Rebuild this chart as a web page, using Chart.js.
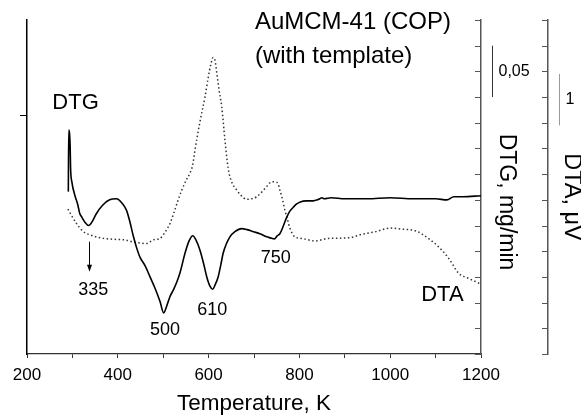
<!DOCTYPE html>
<html>
<head>
<meta charset="utf-8">
<script src="https://cdn.jsdelivr.net/npm/chart.js@4.4.1/dist/chart.umd.min.js"></script>
<style>
  html, body { margin: 0; padding: 0; background: #fff; }
</style>
</head>
<body>
<canvas id="thermoChart" width="581" height="417"></canvas>
<script>
// DTG curve (solid), mg/min
const dtgTemp = [291, 292, 295, 296, 299, 305, 312, 316, 321, 328, 336, 344, 352, 367, 382, 397, 409, 419, 427, 434,
  441, 449, 460, 471, 482, 493, 501, 508, 515, 522, 530, 537, 548, 557, 565, 572, 581, 589, 596, 603,
  609, 614, 621, 627, 632, 639, 647, 658, 673, 685, 699, 713, 728, 736, 745, 751, 757, 765, 772, 779,
  787, 794, 802, 815, 830, 840, 845, 849, 855, 870, 900, 950, 1000, 1050, 1100, 1125, 1140, 1160, 1200];
const dtgValue = [-0.142, -0.082, -0.097, -0.119, -0.133, -0.145, -0.155, -0.163, -0.167, -0.172, -0.175, -0.171, -0.164, -0.155, -0.150, -0.149, -0.153, -0.160, -0.172, -0.185,
  -0.196, -0.206, -0.214, -0.225, -0.236, -0.249, -0.260, -0.253, -0.244, -0.238, -0.230, -0.221, -0.202, -0.190, -0.185, -0.189, -0.199, -0.212, -0.225, -0.234,
  -0.237, -0.233, -0.225, -0.213, -0.202, -0.193, -0.186, -0.181, -0.178, -0.179, -0.181, -0.183, -0.186, -0.187, -0.188, -0.185, -0.183, -0.175, -0.167, -0.161,
  -0.157, -0.154, -0.152, -0.151, -0.151, -0.150, -0.149, -0.148, -0.149, -0.148, -0.149, -0.149, -0.148, -0.149, -0.149, -0.150, -0.147, -0.147, -0.146];

// DTA curve (dotted), µV
const dtaTemp = [290, 309, 323, 338, 368, 397, 416, 434, 463, 478, 493, 504, 515, 524, 533, 541, 551, 559, 565, 570,
  581, 592, 599, 605, 610, 614, 618, 623, 629, 636, 643, 649, 662, 671, 684, 694, 706, 717, 728, 739,
  746, 753, 757, 763, 768, 774, 779, 790, 805, 835, 864, 908, 938, 967, 1000, 1026, 1055, 1084, 1106, 1129,
  1151, 1173, 1200];
const dtaValue = [-0.18, -0.46, -0.61, -0.68, -0.75, -0.77, -0.78, -0.82, -0.85, -0.78, -0.75, -0.63, -0.46, -0.24, 0.0, 0.19, 0.39, 0.52, 0.68, 0.97,
  1.52, 2.0, 2.37, 2.64, 2.77, 2.72, 2.47, 2.14, 1.81, 1.16, 0.62, 0.39, 0.19, 0.09, 0.01, 0.02, 0.06, 0.15, 0.26, 0.35,
  0.35, 0.31, 0.19, 0.0, -0.2, -0.39, -0.55, -0.72, -0.75, -0.8, -0.75, -0.74, -0.67, -0.62, -0.55, -0.57, -0.6, -0.75, -0.91, -1.14,
  -1.43, -1.53, -1.64];

// axes
const tempRange = [200, 1200];
const tempLabelStep = 200;
const dtgRange = [-0.30, 0.025];
const dtgStep = 0.025;
const dtaRange = [-3, 3.5];
const dtaStep = 0.5;
const leftTicks = [-0.0675];

// scale bars
const dtgBar = [-0.05, 0];
const dtgBarText = "0,05";
const dtaBar = [1.45, 2.45];
const dtaBarText = "1";

// labels placed at (temperature, DTG value)
const notes = [
  { text: "AuMCM-41 (COP)", t: 702, v: 0.0225, size: 24, align: "left" },
  { text: "(with template)", t: 702, v: -0.0105, size: 24, align: "left" },
  { text: "DTG", t: 307, v: -0.0558, size: 22 },
  { text: "335", t: 346, v: -0.2377, size: 18 },
  { text: "500", t: 504, v: -0.2762, size: 18 },
  { text: "610", t: 608, v: -0.2577, size: 18 },
  { text: "750", t: 748, v: -0.2066, size: 18 },
  { text: "DTA", t: 1115, v: -0.2426, size: 22 }
];
const arrow335 = { t: 336, from: -0.1907, to: -0.2199 };

const FONT = "'Liberation Sans', Arial, sans-serif";
Chart.defaults.font.family = FONT;
Chart.defaults.color = "#000";

function toPoints(xs, ys) {
  return xs.map((x, i) => ({ x: x, y: ys[i] }));
}

const overlay = {
  id: "overlay",
  afterDraw(chart) {
    const { ctx, scales, chartArea } = chart;
    const xs = scales.x, yg = scales.yDtg, ya = scales.yDta;
    ctx.save();

    // inward tick marks on the two right axes
    ctx.strokeStyle = "#555";
    ctx.lineWidth = 1;
    [yg, ya].forEach(s => {
      s.ticks.forEach(tk => {
        const py = Math.round(s.getPixelForValue(tk.value)) + 0.5;
        ctx.beginPath();
        ctx.moveTo(s.left, py);
        ctx.lineTo(s.left - 6, py);
        ctx.stroke();
      });
    });

    // scale bars
    const gx = Math.round(yg.left + 11) + 0.5;
    const g0 = yg.getPixelForValue(dtgBar[0]), g1 = yg.getPixelForValue(dtgBar[1]);
    ctx.strokeStyle = "#333";
    ctx.beginPath(); ctx.moveTo(gx, g0); ctx.lineTo(gx, g1); ctx.stroke();
    const ax = Math.round(ya.left + 11) + 0.5;
    const a0 = ya.getPixelForValue(dtaBar[0]), a1 = ya.getPixelForValue(dtaBar[1]);
    ctx.strokeStyle = "#999";
    ctx.beginPath(); ctx.moveTo(ax, a0); ctx.lineTo(ax, a1); ctx.stroke();

    ctx.fillStyle = "#000";
    ctx.textBaseline = "middle";
    ctx.textAlign = "left";
    ctx.font = "16px " + FONT;
    ctx.fillText(dtgBarText, gx + 6, (g0 + g1) / 2);
    ctx.fillText(dtaBarText, ax + 6, (a0 + a1) / 2);

    // text notes
    notes.forEach(n => {
      ctx.font = n.size + "px " + FONT;
      ctx.textAlign = n.align || "center";
      ctx.fillText(n.text, xs.getPixelForValue(n.t), yg.getPixelForValue(n.v));
    });

    // arrow under the 335 minimum
    const arX = Math.round(xs.getPixelForValue(arrow335.t)) + 0.5;
    const arTop = yg.getPixelForValue(arrow335.from), arTip = yg.getPixelForValue(arrow335.to);
    ctx.strokeStyle = "#000";
    ctx.beginPath(); ctx.moveTo(arX, arTop); ctx.lineTo(arX, arTip - 4); ctx.stroke();
    ctx.beginPath();
    ctx.moveTo(arX, arTip);
    ctx.lineTo(arX - 2.5, arTip - 7);
    ctx.lineTo(arX + 2.5, arTip - 7);
    ctx.closePath();
    ctx.fill();

    // right axis titles, read top to bottom
    ctx.textAlign = "center";
    [[yg, "DTG, mg/min", 25, 15, 23], [ya, "DTA, \u03bcV", 23, 10, 23.5]].forEach(([s, text, dx, dy, size]) => {
      ctx.save();
      ctx.font = size + "px " + FONT;
      ctx.translate(s.left + dx, (chartArea.top + chartArea.bottom) / 2 + dy);
      ctx.rotate(Math.PI / 2);
      ctx.fillText(text, 0, 0);
      ctx.restore();
    });

    ctx.restore();
  }
};

const ctx = document.getElementById("thermoChart").getContext("2d");
new Chart(ctx, {
  type: "line",
  data: {
    datasets: [
      {
        label: "DTG",
        data: toPoints(dtgTemp, dtgValue),
        yAxisID: "yDtg",
        borderColor: "#000",
        borderWidth: 1.6,
        pointRadius: 0,
        cubicInterpolationMode: "monotone",
        fill: false
      },
      {
        label: "DTA",
        data: toPoints(dtaTemp, dtaValue),
        yAxisID: "yDta",
        borderColor: "#333",
        borderWidth: 1.5,
        borderDash: [1.5, 2.5],
        pointRadius: 0,
        cubicInterpolationMode: "monotone",
        fill: false
      }
    ]
  },
  options: {
    responsive: false,
    animation: false,
    layout: { padding: { top: 20, left: 0, right: 0, bottom: 0 } },
    plugins: { legend: { display: false }, tooltip: { enabled: false } },
    scales: {
      x: {
        type: "linear",
        min: tempRange[0],
        max: tempRange[1],
        afterFit: s => { s.height = 63; },
        ticks: {
          stepSize: 100,
          autoSkip: false,
          maxRotation: 0,
          padding: 7,
          font: { size: 17 },
          color: "#000",
          callback: v => (v % tempLabelStep === 0 ? String(v) : "")
        },
        grid: { drawOnChartArea: false, tickLength: 4, color: "#333" },
        border: { color: "#333", width: 1.3 },
        title: { display: true, text: "Temperature, K", font: { size: 22.5 }, color: "#000", padding: { top: 0, bottom: 0 } }
      },
      yL: {
        type: "linear",
        position: "left",
        min: dtgRange[0],
        max: dtgRange[1],
        afterFit: s => { s.width = 27; },
        afterBuildTicks: s => { s.ticks = leftTicks.map(v => ({ value: v })); },
        ticks: { display: false },
        grid: { drawOnChartArea: false, tickLength: 7, color: "#000" },
        border: { color: "#000", width: 1.5 }
      },
      yDtg: {
        type: "linear",
        position: "right",
        weight: 0,
        min: dtgRange[0],
        max: dtgRange[1],
        afterFit: s => { s.width = 67; },
        ticks: { display: false, stepSize: dtgStep },
        grid: { drawOnChartArea: false, drawTicks: false },
        border: { color: "#555", width: 1.5 }
      },
      yDta: {
        type: "linear",
        position: "right",
        weight: 1,
        min: dtaRange[0],
        max: dtaRange[1],
        afterFit: s => { s.width = 33; },
        ticks: { display: false, stepSize: dtaStep },
        grid: { drawOnChartArea: false, drawTicks: false },
        border: { color: "#555", width: 1.5 }
      }
    }
  },
  plugins: [overlay]
});
</script>
</body>
</html>
